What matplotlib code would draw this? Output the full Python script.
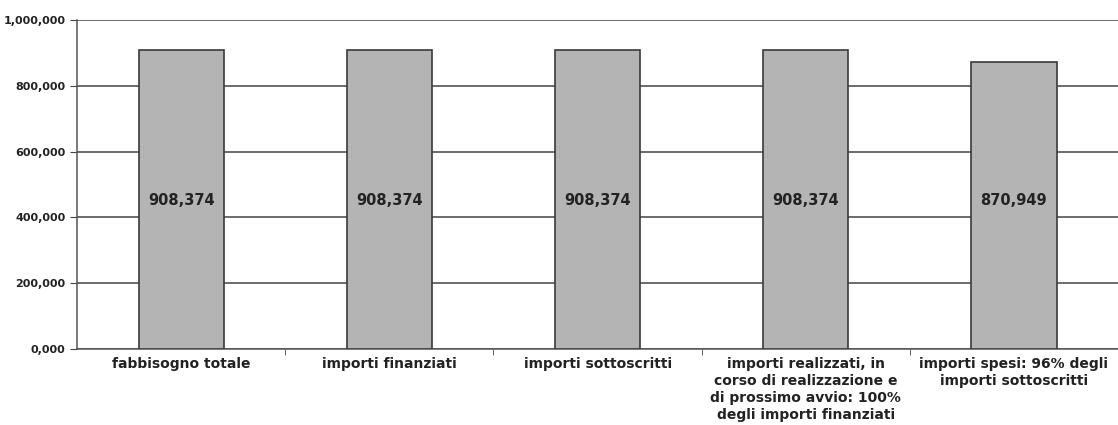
import numpy as np
import matplotlib
matplotlib.use("Agg")
import matplotlib.pyplot as plt
from matplotlib.ticker import FuncFormatter

# categories and values
categories = ["fabbisogno totale",
              "importi finanziati",
              "importi sottoscritti",
              "importi realizzati, in\ncorso di realizzazione e\ndi prossimo avvio: 100%\ndegli importi finanziati",
              "importi spesi: 96% degli\nimporti sottoscritti"]
values = [908374, 908374, 908374, 908374, 870949]
value_labels = ["908,374", "908,374", "908,374", "908,374", "870,949"]

fig = plt.figure(figsize=(11.18, 4.25), dpi=100)
ax = fig.add_axes([0.069, 0.179, 0.931, 0.774])

x = np.arange(len(categories))
ax.bar(x, values, width=0.41, color="#b4b4b4", edgecolor="#3a3a3a", linewidth=1.2, zorder=3)

for xi, v, lab in zip(x, values, value_labels):
    ax.text(xi, 450000, lab, ha="center", va="center", fontsize=10.5,
            fontweight="bold", color="#222222", zorder=4)

ax.set_xlim(-0.5, len(categories) - 0.5)
ax.set_ylim(0, 1000000)
ax.set_yticks(np.arange(0, 1000001, 200000))
ax.yaxis.set_major_formatter(FuncFormatter(lambda v, p: "0,000" if v == 0 else "{:,.0f},000".format(v / 1000)))
ax.yaxis.grid(True, color="#444444", linewidth=1.1, zorder=0)

ax.set_xticks(x)
ax.set_xticklabels(categories, fontsize=10, fontweight="bold", color="#222222", linespacing=1.25)
ax.set_xticks(np.arange(0.5, len(categories) - 0.5, 1), minor=True)
ax.tick_params(axis="x", which="major", length=0, pad=6)
ax.tick_params(axis="x", which="minor", length=4, color="#444444")
ax.tick_params(axis="y", length=5, color="#444444", labelsize=8, labelcolor="#222222")
for t in ax.get_yticklabels():
    t.set_fontweight("bold")

for s in ["top", "right"]:
    ax.spines[s].set_visible(False)
ax.spines["left"].set_color("#555555")
ax.spines["bottom"].set_color("#555555")
ax.spines["left"].set_linewidth(1.1)
ax.spines["bottom"].set_linewidth(1.1)

fig.savefig("out.png", dpi=100)
